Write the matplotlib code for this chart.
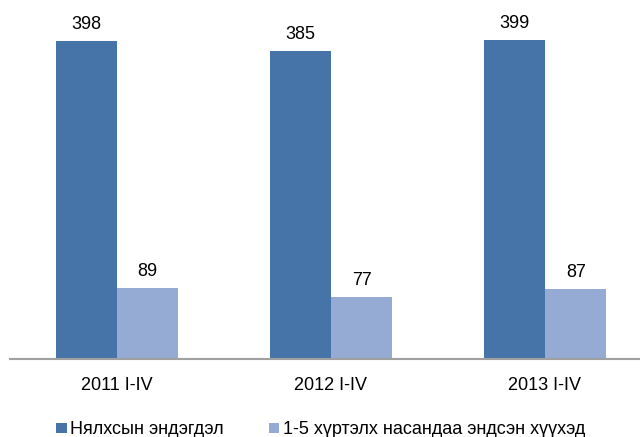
import numpy as np
import matplotlib.pyplot as plt

plt.rcParams['font.family'] = ['Liberation Sans', 'DejaVu Sans']

categories = ['2011 I-IV', '2012 I-IV', '2013 I-IV']
infant = [398, 385, 399]
child = [89, 77, 87]
series_names = ['Нялхсын эндэгдэл', '1-5 хүртэлх насандаа эндсэн хүүхэд']
colors = ['#4674A8', '#95ABD4']

fig = plt.figure(figsize=(6.4, 4.37), dpi=100)
ax = fig.add_axes([10 / 640, 1 - 359 / 437, 630 / 640, 359 / 437])

x = np.arange(len(categories))
w = 0.287
b1 = ax.bar(x - w / 2, infant, w, color=colors[0], label=series_names[0])
b2 = ax.bar(x + w / 2, child, w, color=colors[1], label=series_names[1])

for bars in (b1, b2):
    for r in bars:
        ax.text(r.get_x() + r.get_width() / 2, r.get_height() + 10, str(int(r.get_height())),
                ha='center', va='bottom', fontsize=13)

ax.set_xlim(-0.5, 2.444)
ax.set_ylim(0, 449)
for s in ['top', 'right', 'left']:
    ax.spines[s].set_visible(False)
ax.spines['bottom'].set_color('#A0A0A0')
ax.spines['bottom'].set_linewidth(1.5)
ax.set_yticks([])
ax.set_xticks(x)
ax.set_xticklabels(categories, fontsize=13)
ax.tick_params(axis='x', length=0, pad=13)

fig.legend(handles=[b1, b2], loc='center left', bbox_to_anchor=(56 / 640, 1 - 430 / 437),
           ncol=2, frameon=False, fontsize=13, handlelength=0.6, handleheight=0.45,
           handletextpad=0.17, columnspacing=2.5, borderaxespad=0, borderpad=0)

fig.savefig('out.png', dpi=100)
